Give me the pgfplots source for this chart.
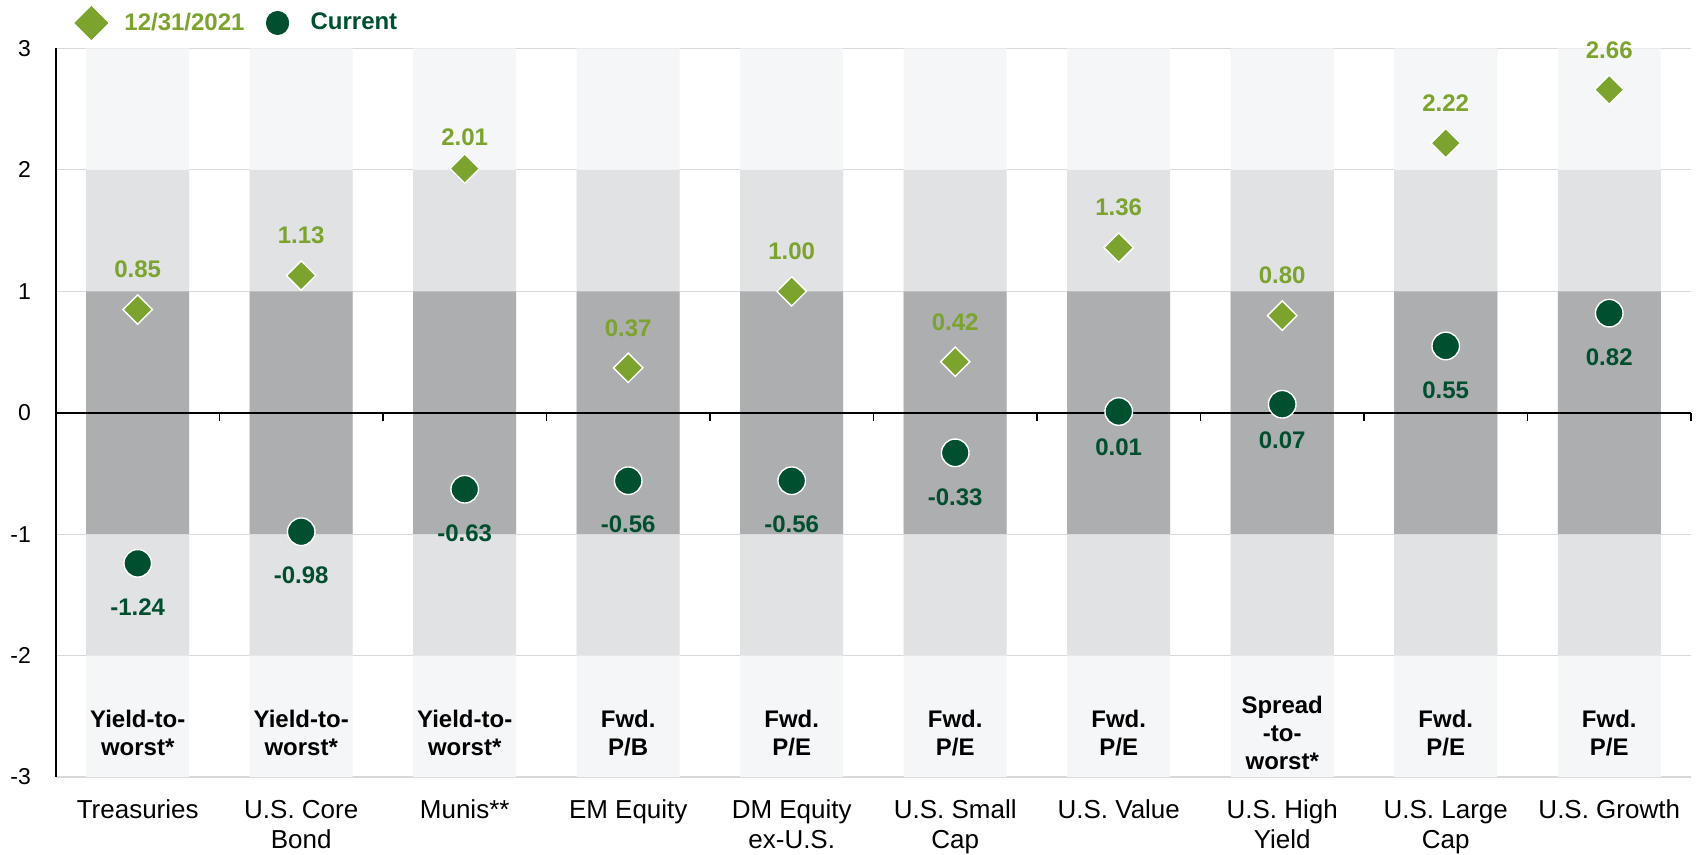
\documentclass[border=0pt]{standalone}
\usepackage{pgfplots}
\pgfplotsset{compat=1.18}
\usepackage{fontspec}
\setmainfont{Liberation Sans}
\definecolor{lgreen}{HTML}{7BA32D}
\definecolor{dgreen}{HTML}{004F2E}
\definecolor{bandA}{HTML}{F5F6F8}
\definecolor{bandB}{HTML}{E1E2E4}
\definecolor{bandC}{HTML}{ADAEB0}
\definecolor{gridc}{HTML}{D9D9D9}
\tikzset{method/.style={align=center, font=\bfseries\fontsize{12}{14}\selectfont, text=black}}
\begin{document}
\begin{tikzpicture}
\useasboundingbox (-28pt,-39pt) rectangle (821pt,388.75pt);
\begin{axis}[
  at={(0,0)}, anchor=south west,
  scale only axis, width=818pt, height=364.5pt,
  xmin=-0.5, xmax=9.5, ymin=-3, ymax=3,
  clip=false,
  axis y line*=left,
  axis x line*=bottom,
  x axis line style={draw=none},
  y axis line style={black, line width=0.7pt},
  xtick={0,...,9},
  xticklabels={{Treasuries},{U.S. Core\\Bond},{Munis**},{EM Equity},{DM Equity\\ex-U.S.},{U.S. Small\\Cap},{U.S. Value},{U.S. High\\Yield},{U.S. Large\\Cap},{U.S. Growth}},
  ytick={-3,...,3},
  major tick length=0pt,
  ymajorgrids, grid style={gridc, line width=0.6pt},
  /pgf/number format/assume math mode=true,
  yticklabel style={font=\fontsize{11.5}{13}\selectfont, xshift=-9pt},
  xticklabel style={font=\fontsize{13}{15}\selectfont, align=center, yshift=-8pt},
  legend columns=2,
  legend style={at={(rel axis cs:0,1)}, anchor=west, yshift=12.75pt, xshift=6pt, draw=none, fill=none,
    font=\bfseries\fontsize{12}{14}\selectfont,
    /tikz/every odd column/.append style={column sep=6pt},
    /tikz/every even column/.append style={column sep=6pt}},
]
% background bands
\addplot[forget plot, ybar, bar width=0.63, bar shift=0pt, fill=bandA, draw=none] coordinates {(0,3)(1,3)(2,3)(3,3)(4,3)(5,3)(6,3)(7,3)(8,3)(9,3)};
\addplot[forget plot, ybar, bar width=0.63, bar shift=0pt, fill=bandA, draw=none] coordinates {(0,-3)(1,-3)(2,-3)(3,-3)(4,-3)(5,-3)(6,-3)(7,-3)(8,-3)(9,-3)};
\addplot[forget plot, ybar, bar width=0.63, bar shift=0pt, fill=bandB, draw=none] coordinates {(0,2)(1,2)(2,2)(3,2)(4,2)(5,2)(6,2)(7,2)(8,2)(9,2)};
\addplot[forget plot, ybar, bar width=0.63, bar shift=0pt, fill=bandB, draw=none] coordinates {(0,-2)(1,-2)(2,-2)(3,-2)(4,-2)(5,-2)(6,-2)(7,-2)(8,-2)(9,-2)};
\addplot[forget plot, ybar, bar width=0.63, bar shift=0pt, fill=bandC, draw=none] coordinates {(0,1)(1,1)(2,1)(3,1)(4,1)(5,1)(6,1)(7,1)(8,1)(9,1)};
\addplot[forget plot, ybar, bar width=0.63, bar shift=0pt, fill=bandC, draw=none] coordinates {(0,-1)(1,-1)(2,-1)(3,-1)(4,-1)(5,-1)(6,-1)(7,-1)(8,-1)(9,-1)};
% zero line with ticks
\draw[black, line width=0.85pt] (axis cs:-0.5,0) -- (axis cs:9.5,0);
\pgfplotsinvokeforeach{0.5,1.5,2.5,3.5,4.5,5.5,6.5,7.5,8.5,9.5}{
  \draw[black, line width=0.7pt] (axis cs:#1,0) -- ([yshift=-4pt]axis cs:#1,0);
}
% method labels
\node[method] at (axis cs:0,-2.64) {Yield-to-\\worst*};
\node[method] at (axis cs:1,-2.64) {Yield-to-\\worst*};
\node[method] at (axis cs:2,-2.64) {Yield-to-\\worst*};
\node[method] at (axis cs:3,-2.64) {Fwd.\\P/B};
\node[method] at (axis cs:4,-2.64) {Fwd.\\P/E};
\node[method] at (axis cs:5,-2.64) {Fwd.\\P/E};
\node[method] at (axis cs:6,-2.64) {Fwd.\\P/E};
\node[method] at (axis cs:7,-2.64) {Spread\\-to-\\worst*};
\node[method] at (axis cs:8,-2.64) {Fwd.\\P/E};
\node[method] at (axis cs:9,-2.64) {Fwd.\\P/E};
% 12/31/2021
\addplot[only marks, mark=square*, mark size=5.2pt,
  mark options={rotate=45, fill=lgreen, draw=white, line width=0.7pt},
  nodes near coords, point meta=explicit symbolic,
  every node near coord/.append style={anchor=center, yshift=20pt, font=\bfseries\fontsize{12}{14}\selectfont, text=lgreen},
  legend image code/.code={\path[draw=none,fill=none] (0,-1pt) rectangle (0.6cm,1pt); \fill[lgreen] (0.3cm,8.25pt) -- (0.3cm+8.25pt,0) -- (0.3cm,-8.25pt) -- (0.3cm-8.25pt,0) -- cycle;}
] coordinates {(0,0.85)[0.85] (1,1.13)[1.13] (2,2.01)[] (3,0.37)[0.37] (4,1.00)[1.00] (5,0.42)[0.42] (6,1.36)[1.36] (7,0.80)[0.80] (8,2.22)[2.22] (9,2.66)[2.66]};
\addlegendentry{\textcolor{lgreen}{12/31/2021}}
\addplot[forget plot, only marks, mark=none,
  nodes near coords, point meta=explicit symbolic,
  every node near coord/.append style={anchor=center, yshift=15.5pt, font=\bfseries\fontsize{12}{14}\selectfont, text=lgreen}
] coordinates {(2,2.01)[2.01]};
% Current
\addplot[only marks, mark=*, mark size=6.9pt,
  mark options={fill=dgreen, draw=white, line width=0.7pt},
  nodes near coords, point meta=explicit symbolic,
  every node near coord/.append style={anchor=center, yshift=-22pt, font=\bfseries\fontsize{12}{14}\selectfont, text=dgreen},
  legend image code/.code={\path[draw=none,fill=none] (0,-1pt) rectangle (0.6cm,1pt); \fill[dgreen] (0.3cm,0) ellipse [x radius=5.6pt, y radius=5.8pt];}
] coordinates {(0,-1.24)[-1.24] (1,-0.98)[-0.98] (2,-0.63)[-0.63] (3,-0.56)[-0.56] (4,-0.56)[-0.56] (5,-0.33)[-0.33] (6,0.01)[] (7,0.07)[] (8,0.55)[0.55] (9,0.82)[0.82]};
\addlegendentry{\textcolor{dgreen}{Current}}
\addplot[forget plot, only marks, mark=none,
  nodes near coords, point meta=explicit symbolic,
  every node near coord/.append style={anchor=center, yshift=-17.8pt, font=\bfseries\fontsize{12}{14}\selectfont, text=dgreen}
] coordinates {(6,0.01)[0.01] (7,0.07)[0.07]};
\end{axis}
\end{tikzpicture}
\end{document}
